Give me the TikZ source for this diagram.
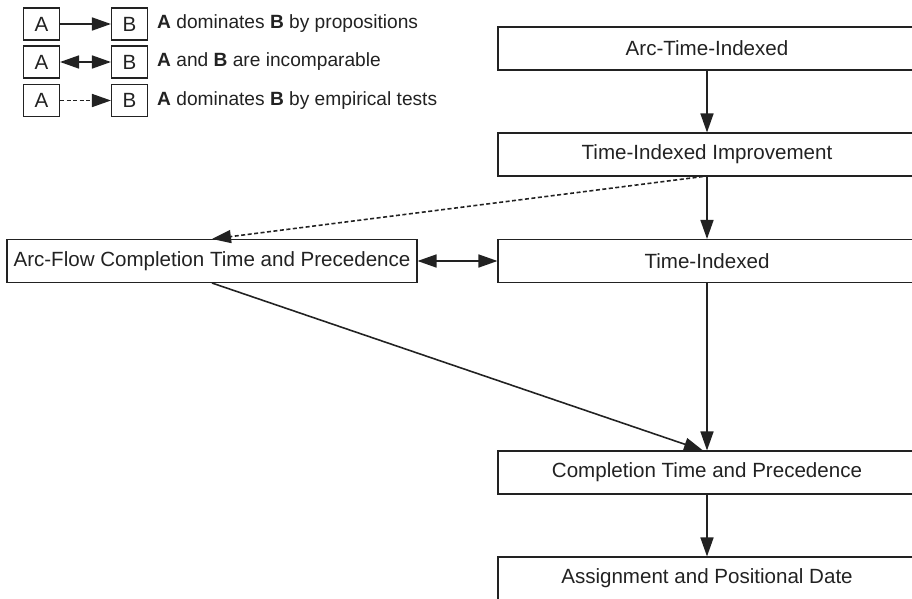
\documentclass[tikz,border=0pt]{standalone}
\usepackage{fontspec}
\setmainfont{Liberation Sans}
\usetikzlibrary{arrows.meta}
\definecolor{ink}{HTML}{222222}

\begin{document}
\begin{tikzpicture}[
    font=\fontsize{11.7}{14}\selectfont, text=ink,
    model/.style={draw=ink, line width=0.6pt, minimum width=8.36cm, minimum height=0.86cm, inner sep=0pt},
    legbox/.style={draw=ink, line width=0.6pt, minimum width=0.72cm, minimum height=0.64cm, inner sep=0pt},
    legtext/.style={font=\fontsize{10.9}{13}\selectfont},
    dom/.style={draw=ink, line width=0.9pt, -{Triangle[length=0.38cm, width=0.26cm]}},
    both/.style={draw=ink, line width=0.9pt, {Triangle[length=0.38cm, width=0.26cm]}-{Triangle[length=0.38cm, width=0.26cm]}},
    test/.style={dom, dash pattern=on 0.08cm off 0.05cm}
]
    \useasboundingbox (0,0) rectangle (18.24,-11.98);

    % Legend
    \node[legbox] (a1) at (0.83,-0.48) {A};
    \node[legbox] (b1) at (2.59,-0.48) {B};
    \node[legtext, anchor=west] (t1) at (3.02,-0.48) {\textbf{A} dominates \textbf{B} by propositions};
    \node[legbox] (a2) at (0.83,-1.24) {A};
    \node[legbox] (b2) at (2.59,-1.24) {B};
    \node[legtext, anchor=west] (t2) at (3.02,-1.24) {\textbf{A} and \textbf{B} are incomparable};
    \node[legbox] (a3) at (0.83,-2.01) {A};
    \node[legbox] (b3) at (2.59,-2.01) {B};
    \node[legtext, anchor=west] (t3) at (3.02,-2.01) {\textbf{A} dominates \textbf{B} by empirical tests};
    \draw[dom] (a1) -- (b1);
    \draw[both] (a2) -- (b2);
    \draw[test] (a3) -- (b3);

    % Formulations
    \node[model] (ati) at (14.14,-0.97) {Arc-Time-Indexed};
    \node[model] (tii) at (14.14,-3.09) {Time-Indexed Improvement};
    \node[model] (ti)  at (14.14,-5.22) {Time-Indexed};
    \node[model, minimum width=8.2cm] (af) at (4.24,-5.22) {Arc-Flow Completion Time and Precedence};
    \node[model] (ctp) at (14.14,-9.45) {Completion Time and Precedence};
    \node[model] (apd) at (14.14,-11.57) {Assignment and Positional Date};

    % Dominance relations
    \draw[dom] (ati) -- (tii);
    \draw[dom] (tii) -- (ti);
    \draw[dom] (ti) -- (ctp);
    \draw[dom] (ctp) -- (apd);
    \draw[test] ([xshift=-0.08cm]tii.south) -- (af.north);
    \draw[both] (af) -- (ti);
    \draw[dom] (af.south) -- ([xshift=-0.08cm]ctp.north);
\end{tikzpicture}
\end{document}
